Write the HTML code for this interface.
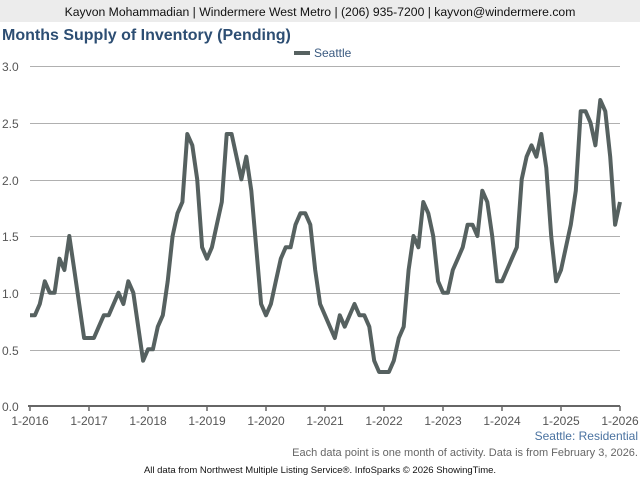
<!DOCTYPE html>
<html><head><meta charset="utf-8"><style>
body{margin:0;width:640px;height:480px;background:#fff;overflow:hidden;font-family:"Liberation Sans",sans-serif}
</style></head><body>
<svg width="640" height="480" xmlns="http://www.w3.org/2000/svg" font-family="Liberation Sans, sans-serif">
<rect x="0" y="0" width="640" height="22" fill="#ececec"/>
<text x="320" y="16" font-size="12.2" text-anchor="middle" fill="#111">Kayvon Mohammadian | Windermere West Metro | (206) 935-7200 | kayvon@windermere.com</text>
<text x="2" y="40" font-size="16" font-weight="bold" fill="#2d4e73">Months Supply of Inventory (Pending)</text>
<rect x="294" y="51" width="16" height="4" fill="#566160"/>
<text x="314" y="57" font-size="12" fill="#3a5a80">Seattle</text>
<g stroke="#b0b0b0" stroke-width="1">
<line x1="30" y1="66.5" x2="620" y2="66.5"/><line x1="30" y1="123.5" x2="620" y2="123.5"/>
<line x1="30" y1="180.5" x2="620" y2="180.5"/><line x1="30" y1="236.5" x2="620" y2="236.5"/>
<line x1="30" y1="293.5" x2="620" y2="293.5"/><line x1="30" y1="350.5" x2="620" y2="350.5"/>
</g>
<line x1="28" y1="406" x2="620" y2="406" stroke="#666" stroke-width="2"/>
<g id="ticks" stroke="#666" stroke-width="1.5"></g>
<g font-size="12" fill="#555" id="yl">
<text x="2" y="71">3.0</text><text x="2" y="128">2.5</text><text x="2" y="185">2.0</text>
<text x="2" y="241">1.5</text><text x="2" y="298">1.0</text><text x="2" y="355">0.5</text><text x="2" y="411">0.0</text>
</g>
<g font-size="12" fill="#555" text-anchor="middle" id="xl"></g>
<polyline id="ln" fill="none" stroke="#566160" stroke-width="4" stroke-linejoin="round" points=""/>
<text x="638" y="440" font-size="12" fill="#4a72a0" text-anchor="end">Seattle: Residential</text>
<text x="638" y="456" font-size="11" fill="#666" text-anchor="end">Each data point is one month of activity. Data is from February 3, 2026.</text>
<text x="320" y="473" font-size="9.5" fill="#111" text-anchor="middle">All data from Northwest Multiple Listing Service®. InfoSparks © 2026 ShowingTime.</text>
</svg>
<script>
var v=[0.8,0.8,0.9,1.1,1.0,1.0,1.3,1.2,1.5,1.2,0.9,0.6,
0.6,0.6,0.7,0.8,0.8,0.9,1.0,0.9,1.1,1.0,0.7,0.4,
0.5,0.5,0.7,0.8,1.1,1.5,1.7,1.8,2.4,2.3,2.0,1.4,
1.3,1.4,1.6,1.8,2.4,2.4,2.2,2.0,2.2,1.9,1.4,0.9,
0.8,0.9,1.1,1.3,1.4,1.4,1.6,1.7,1.7,1.6,1.2,0.9,
0.8,0.7,0.6,0.8,0.7,0.8,0.9,0.8,0.8,0.7,0.4,0.3,
0.3,0.3,0.4,0.6,0.7,1.2,1.5,1.4,1.8,1.7,1.5,1.1,
1.0,1.0,1.2,1.3,1.4,1.6,1.6,1.5,1.9,1.8,1.5,1.1,
1.1,1.2,1.3,1.4,2.0,2.2,2.3,2.2,2.4,2.1,1.5,1.1,
1.2,1.4,1.6,1.9,2.6,2.6,2.5,2.3,2.7,2.6,2.2,1.6,1.8];
var p=[];for(var i=0;i<v.length;i++){p.push((30+i*590/120).toFixed(1)+","+(406-v[i]*113.33).toFixed(1));}
document.getElementById('ln').setAttribute('points',p.join(' '));
var t='',l='';for(var k=0;k<=10;k++){var x=30+k*59;t+='<line x1="'+x+'" y1="406" x2="'+x+'" y2="411"/>';l+='<text x="'+x+'" y="425">1-'+(2016+k)+'</text>';}
document.getElementById('ticks').innerHTML=t;document.getElementById('xl').innerHTML=l;
</script>
</body></html>
